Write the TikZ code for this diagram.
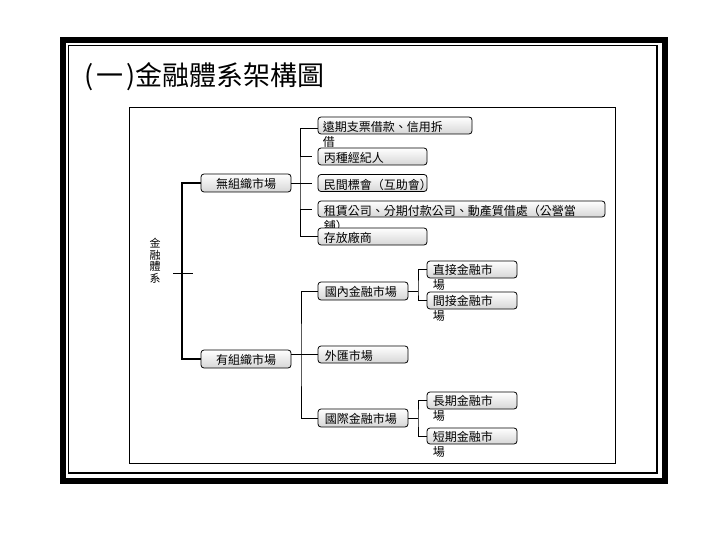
\documentclass[tikz,border=0pt]{standalone}
\usepackage{fontspec}
\newfontfamily\cjk{Noto Sans CJK TC}
\newcommand{\boxfont}{\cjk\fontsize{12}{15}\selectfont}
\tikzset{
	block/.style={draw, line width=0.8pt, rounded corners=3pt, top color=white, bottom color=black!16, minimum height=17pt, inner sep=0pt},
	txt/.style={anchor=north west, inner sep=0pt, align=left, font=\boxfont},
	trunk/.style={line width=2pt},
	branch/.style={line width=0.9pt}
}

\begin{document}
\begin{tikzpicture}[x=1pt, y=-1pt]
		\useasboundingbox (0,0) rectangle (720,540);
		
		% frame
		\draw[line width=6pt] (63,40) rectangle (664.5,480.5);
		\draw[line width=1.5pt] (68.5,45.5) rectangle (657,473);
		\draw[line width=0.8pt] (129,107) rectangle (615,463);
		
		\node[anchor=west, inner sep=0pt, font=\cjk\fontsize{27}{30}\selectfont] (title) at (84,77) {(\hspace{3pt}一\hspace{3pt})金融體系架構圖};
		
		\node[align=center, inner sep=0pt, font=\cjk\fontsize{11}{11.5}\selectfont] (root) at (155,261) {金\\融\\體\\系};
		
		\node[block, minimum width=90pt, minimum height=18pt] (unorg) at (246,183) {};
		\node[font=\boxfont, yshift=-1pt] at (unorg) {無組織市場};
		
		\node[block, minimum width=90pt, minimum height=18pt] (org) at (246,359) {};
		\node[font=\boxfont, yshift=-1pt] at (org) {有組織市場};
		
		\node[block, minimum width=154pt] (far) at (395,125.5) {};
		\node[txt] at ([shift={(5pt,-4.5pt)}]far.north west) {遠期支票借款、信用拆\\借};
		
		\node[block, minimum width=109pt] (broker) at (372.5,156.5) {};
		\node[txt] at ([shift={(6pt,-4.5pt)}]broker.north west) {丙種經紀人};
		
		\node[block, minimum width=109pt] (rosca) at (372.5,183) {};
		\node[txt] at ([shift={(6pt,-4.5pt)}]rosca.north west) {民間標會（互助會）};
		
		\node[block, minimum width=287pt, minimum height=16pt] (lease) at (461.5,209) {};
		\node[txt] at ([shift={(6pt,-4pt)}]lease.north west) {租賃公司、分期付款公司、動產質借處（公營當\\舖）};
		
		\node[block, minimum width=109pt] (vendor) at (372.5,236.5) {};
		\node[txt] at ([shift={(6pt,-4.5pt)}]vendor.north west) {存放廠商};
		
		\node[block, minimum width=90pt, minimum height=18pt] (domestic) at (363,291) {};
		\node[txt] at ([shift={(7pt,-4.5pt)}]domestic.north west) {國內金融市場};
		
		\node[block, minimum width=90pt] (forex) at (363,354.5) {};
		\node[txt] at ([shift={(7pt,-4.5pt)}]forex.north west) {外匯市場};
		
		\node[block, minimum width=90pt, minimum height=18pt] (intl) at (363,418) {};
		\node[txt] at ([shift={(7pt,-4.5pt)}]intl.north west) {國際金融市場};
		
		\node[block, minimum width=90pt] (direct) at (472,269.5) {};
		\node[txt] at ([shift={(6pt,-4pt)}]direct.north west) {直接金融市\\場};
		
		\node[block, minimum width=90pt] (indirect) at (472,300.5) {};
		\node[txt] at ([shift={(6pt,-4pt)}]indirect.north west) {間接金融市\\場};
		
		\node[block, minimum width=90pt] (longterm) at (472,400.5) {};
		\node[txt] at ([shift={(6pt,-4pt)}]longterm.north west) {長期金融市\\場};
		
		\node[block, minimum width=90pt, minimum height=16pt] (shortterm) at (472,436) {};
		\node[txt] at ([shift={(6pt,-4pt)}]shortterm.north west) {短期金融市\\場};
		
		% connectors
		\coordinate (j0) at (182,273);
		\draw[trunk] (unorg.west) -| (j0) |- (org.west);
		\draw[branch] ([xshift=-9pt]j0) -- ([xshift=11pt]j0);
		
		\coordinate (j1) at (300,183);
		\draw[branch] ([yshift=-3pt]far.west) -| (j1) |- (vendor.west);
		\draw[branch] (unorg.east) -- ([xshift=-6pt]rosca.west);
		\draw[branch] (j1 |- broker.west) -- ([xshift=-6pt]broker.west);
		\draw[branch] (j1 |- lease.west) -- ([xshift=-6pt]lease.west);
		
		\coordinate (j2) at (301,355);
		\draw[branch] (domestic.west) -| (j2) |- (intl.west);
		\draw[branch] (forex.west -| org.east) -- (forex.west);
		
		\coordinate (j3) at (418,291);
		\draw[branch] (domestic.east) -- (j3);
		\draw[branch] (direct.west) -| (j3) |- (indirect.west);
		
		\coordinate (j4) at (418,418);
		\draw[branch] (intl.east) -- (j4);
		\draw[branch] (longterm.west) -| (j4) |- (shortterm.west);
	\end{tikzpicture}
\end{document}
